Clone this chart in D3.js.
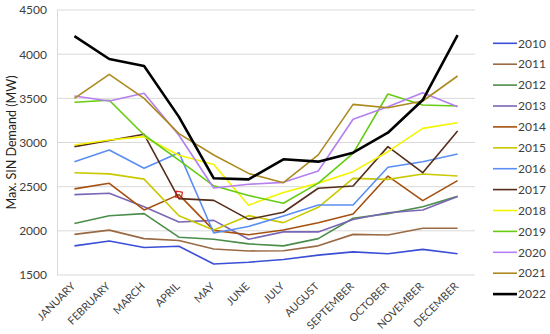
<!DOCTYPE html>
<html><head><meta charset="utf-8">
<script src="https://cdnjs.cloudflare.com/ajax/libs/d3/7.8.5/d3.min.js"></script>
<style>body{margin:0;background:#fff;}svg{display:block;font-family:Lato,"Open Sans",sans-serif;}</style>
</head><body><svg id="c" width="550" height="334"></svg>
<script>
const months = ["JANUARY","FEBRUARY","MARCH","APRIL","MAY","JUNE","JULY","AUGUST","SEPTEMBER","OCTOBER","NOVEMBER","DECEMBER"];
const years = ["2010","2011","2012","2013","2014","2015","2016","2017","2018","2019","2020","2021","2022"];
const yTicks = [1500,2000,2500,3000,3500,4000,4500];
const d2010 = [1830,1885,1812,1825,1625,1645,1675,1725,1762,1740,1790,1740];
const d2011 = [1960,2008,1912,1890,1795,1772,1775,1830,1960,1953,2030,2030];
const d2012 = [2082,2170,2195,1928,1905,1852,1830,1912,2142,2195,2272,2390];
const d2013 = [2410,2425,2272,2100,2118,1904,1988,1988,2128,2205,2236,2390];
const d2014 = [2475,2538,2236,2410,2005,1955,2010,2092,2190,2620,2342,2568];
const d2015 = [2658,2645,2585,2170,2010,2172,2093,2266,2594,2583,2643,2620];
const d2016 = [2783,2915,2708,2885,1975,2050,2168,2293,2293,2719,2783,2870];
const d2017 = [2953,3022,3093,2365,2345,2130,2210,2482,2508,2953,2658,3130];
const d2018 = [2972,3028,3066,2855,2752,2290,2435,2540,2670,2896,3160,3224];
const d2019 = [3455,3478,3085,2800,2510,2400,2312,2540,2877,3549,3425,3413];
const d2020 = [3526,3470,3557,3082,2485,2527,2549,2677,3263,3406,3564,3406];
const d2021 = [3500,3772,3500,3100,2858,2650,2545,2860,3432,3394,3470,3753];
const d2022 = [4205,3945,3866,3290,2595,2583,2810,2783,2885,3111,3481,4215];
const seriesValues = [d2010,d2011,d2012,d2013,d2014,d2015,d2016,d2017,d2018,d2019,d2020,d2021,d2022];
const colors = ["#3b4fd6","#9a6a44","#4b8e4b","#7a66b4","#a5500f","#c9c900","#5b8ef2","#552d1a","#f4f400","#66cc11","#b57ff0","#ad8a20","#000000"];

const svg = d3.select("#c");
const L = 57, R = 475, T = 10, B = 275;
const x = d3.scalePoint().domain(months).range([L, R]).padding(0.5);
const y = d3.scaleLinear().domain([1500,4500]).range([B, T]);

// gridlines
svg.append("g").selectAll("line").data(yTicks).join("line")
  .attr("x1", L).attr("x2", R).attr("y1", d=>y(d)).attr("y2", d=>y(d))
  .attr("stroke", "#d9d9d9").attr("stroke-width", 1);
// left axis line
svg.append("line").attr("x1", L+0.5).attr("x2", L+0.5).attr("y1", T).attr("y2", B)
  .attr("stroke", "#d9d9d9");

// y axis labels
const yAxis = d3.axisLeft(y).tickValues(yTicks).tickFormat(d3.format("d")).tickSize(0).tickPadding(10);
const gy = svg.append("g").attr("transform", `translate(${L},0)`).call(yAxis);
gy.select(".domain").remove();
gy.selectAll("text").attr("font-size", 12).attr("fill", "#404040").attr("font-family","Lato,sans-serif");

// x axis labels
const xAxis = d3.axisBottom(x).tickSize(0).tickPadding(0);
const gx = svg.append("g").attr("transform", `translate(0,${B})`).call(xAxis);
gx.select(".domain").remove();
gx.selectAll("text").attr("font-size", 10.8).attr("fill", "#404040").attr("font-family","Lato,sans-serif")
  .attr("text-anchor", "end").attr("dy", null).attr("y", 0)
  .attr("transform", "translate(1,12) rotate(-45)");

// y axis title
svg.append("text").attr("transform", `translate(16,${(T+B)/2}) rotate(-90)`)
  .attr("text-anchor", "middle").attr("font-size", 12.5).attr("fill", "#222")
  .text("Max. SIN  Demand (MW)");

// lines
const line = d3.line().x((d,i)=>x(months[i])).y(d=>y(d));
svg.append("g").selectAll("path").data(seriesValues).join("path")
  .attr("d", d=>line(d)).attr("fill","none")
  .attr("stroke", (d,i)=>colors[i])
  .attr("stroke-width", (d,i)=> i===12 ? 2.6 : 1.6)
  .attr("stroke-linejoin","round");

// red highlight marker on 2014 April
svg.append("rect")
  .attr("x", x("APRIL")-3).attr("y", y(d2014[3])-3).attr("width", 6).attr("height", 6)
  .attr("fill","none").attr("stroke","#d81e1e").attr("stroke-width",1.2)
  .attr("transform", `rotate(10,${x("APRIL")},${y(d2014[3])})`);

// legend
const lg = svg.append("g").selectAll("g").data(years).join("g")
  .attr("transform", (d,i)=>`translate(493,${43.3 + i*20.9})`);
lg.append("line").attr("x1",0).attr("x2",24).attr("y1",0).attr("y2",0)
  .attr("stroke",(d,i)=>colors[i]).attr("stroke-width",(d,i)=> i===12 ? 2.6 : 1.6);
lg.append("text").attr("x",25).attr("y",0).attr("dy","0.35em")
  .attr("font-size",12).attr("fill","#404040").text(d=>d);
</script></body></html>
